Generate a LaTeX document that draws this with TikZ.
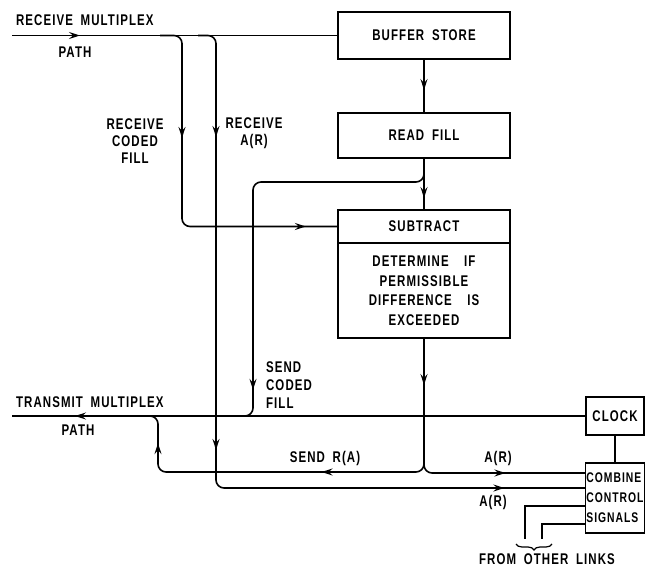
\documentclass[tikz,border=0pt]{standalone}
\usepackage{fontspec}
\setmainfont{Liberation Sans}[FakeStretch=0.74,LetterSpace=7]
\usetikzlibrary{positioning,arrows.meta,decorations.markings,decorations.pathreplacing}
\newcommand{\lbl}{\fontsize{15.5}{18}\selectfont\bfseries}

\begin{document}
\begin{tikzpicture}[x=1pt, y=-1pt,
  line width=1.6pt,
  every node/.style={font=\lbl},
  box/.style={draw, minimum width=172pt, inner sep=2pt, outer sep=0pt},
  sbox/.style={draw, minimum width=58pt, inner xsep=1pt, outer sep=0pt},
  wire/.style={rounded corners=8pt},
  tip at/.style={postaction={decorate, decoration={markings,
    mark=at position #1 with {\arrow{Stealth[length=11pt,width=7pt,inset=4pt]}}}}},
  node distance=0pt]
\useasboundingbox (0,0) rectangle (646,570);
% boxes of the receiving side
\node[box, minimum height=47pt] (buf) at (424,35.5) {BUFFER\enspace STORE};
\node[box, minimum height=45pt, below=54pt of buf] (read) {READ\enspace FILL};
\node[box, minimum height=33pt, below=52pt of read] (sub) {SUBTRACT};
\node[box, minimum height=95pt, below=0pt of sub, align=center, font=\fontsize{15.5}{19.5}\selectfont\bfseries] (det) {DETERMINE\quad IF\\PERMISSIBLE\\DIFFERENCE\quad IS\\EXCEEDED};
\node[sbox, minimum height=38pt] (clock) at (615,416) {CLOCK};
\node[sbox, minimum height=70pt, below=28pt of clock, align=left, font=\fontsize{14}{20}\selectfont\bfseries] (comb) {COMBINE\\CONTROL\\SIGNALS};
% free ends
\coordinate (rxin) at (12,35.5);
\coordinate (tapA) at (160,35.5);
\coordinate (tapB) at (198,35.5);
\coordinate (txout) at (12,416);
\coordinate (jcf) at (230,416);
\coordinate (jra) at (145,416);
\coordinate (ol1) at (525,539);
\coordinate (ol2) at (542,539);
\coordinate (brR) at (552,544);
\coordinate (brL) at (516,544);
% connectors
\draw[tip at=68pt] (rxin) -- (buf.west);
\draw[wire, tip at=121pt, tip at=330pt] (tapA) -- (182,35.5) -- (182,226.5) -- (sub.west);
\draw[wire, tip at=116pt, tip at=429pt, tip at=752pt] (tapB) -- (216,35.5) -- (216,488) -- ([yshift=10pt]comb.west);
\draw[tip at=31pt] (buf) -- (read);
\draw[tip at=40pt] (read) -- (sub);
\draw[wire, tip at=396pt] (read.south) -- (424,182) -- (253,182) -- (253,416) -- (jcf);
\draw[tip at=511pt] (clock.west) -- (txout);
\draw[wire, tip at=47pt, tip at=233pt, tip at=422pt] (det.south) -- (424,472) -- (158,472) -- (158,416) -- (jra);
\draw[wire, tip at=213pt] (det.south) -- (424,473) -- ([yshift=25pt]comb.west);
\draw (clock) -- (comb);
\draw ([yshift=-8pt]comb.west) -| (ol1);
\draw ([yshift=-26pt]comb.west) -| (ol2);
\draw[decorate, decoration={brace, amplitude=6pt}, line width=1.2pt] (brR) -- (brL);
% labels
\node[anchor=base west] (rxlbl) at (12,26) {RECEIVE\enspace MULTIPLEX};
\node (rxpath) at (75,52) {PATH};
\node[align=center, font=\fontsize{15.5}{17}\selectfont\bfseries] (cflbl) at (135,141) {RECEIVE\\CODED\\FILL};
\node[align=center, font=\fontsize{15.5}{17}\selectfont\bfseries] (arlbl) at (254,133) {RECEIVE\\A(R)};
\node[align=left, anchor=west] (sclbl) at (262,385) {SEND\\CODED\\FILL};
\node[anchor=base west] (txlbl) at (12,407) {TRANSMIT\enspace MULTIPLEX};
\node (txpath) at (78,430) {PATH};
\node (ralbl) at (325,458) {SEND\enspace R(A)};
\node (ar1) at (498,458) {A(R)};
\node (ar2) at (493,502) {A(R)};
\node (fol) at (547,559) {FROM\enspace OTHER\enspace LINKS};
\end{tikzpicture}
\end{document}
